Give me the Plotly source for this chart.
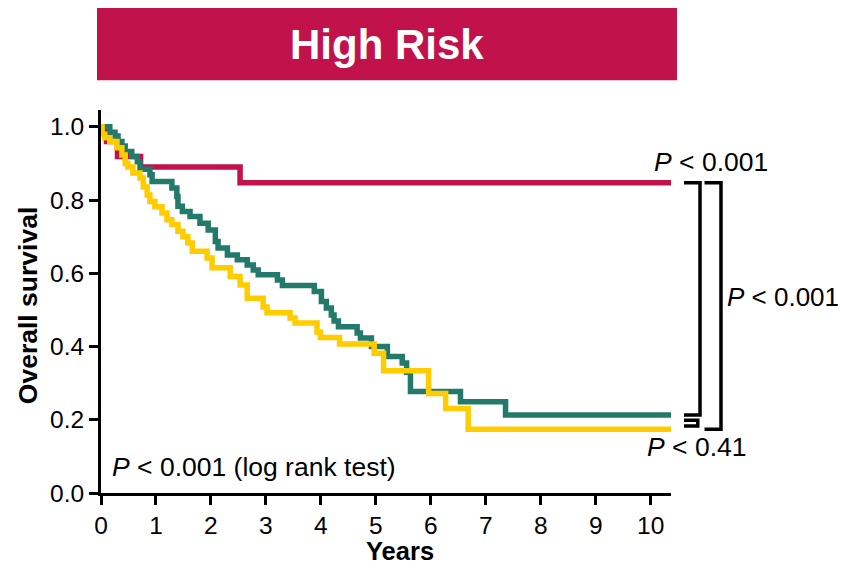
import plotly.graph_objects as go

# ---- data ----
red_t = [0, 0.10, 0.30, 0.72, 2.53, 10.37]
red_s = [1.0, 0.96, 0.919, 0.89, 0.847, 0.847]

green_t = [0, 0.16, 0.255, 0.31, 0.38, 0.44, 0.56, 0.66, 0.71, 0.89, 0.93, 1.29, 1.38, 1.40,
           1.48, 1.62, 1.80, 1.95, 2.08, 2.13, 2.30, 2.48, 2.66, 2.77, 2.86, 3.21, 3.30, 3.88,
           4.01, 4.10, 4.19, 4.24, 4.32, 4.66, 4.72, 4.92, 5.21, 5.48, 5.56, 5.63, 6.54, 7.36, 10.37]
green_s = [1.0, 0.985, 0.975, 0.96, 0.948, 0.933, 0.919, 0.905, 0.884, 0.869, 0.851, 0.833, 0.81, 0.783,
           0.769, 0.755, 0.737, 0.718, 0.687, 0.669, 0.65, 0.637, 0.623, 0.609, 0.596, 0.582, 0.567, 0.55,
           0.523, 0.505, 0.486, 0.47, 0.454, 0.437, 0.423, 0.40, 0.373, 0.355, 0.33, 0.277, 0.249, 0.213, 0.213]

yellow_t = [0, 0.02, 0.07, 0.16, 0.29, 0.38, 0.44, 0.49, 0.58, 0.71, 0.77, 0.84, 0.89, 0.98, 1.11,
            1.20, 1.29, 1.40, 1.49, 1.58, 1.66, 1.93, 2.02, 2.35, 2.53, 2.66, 2.95, 3.02, 3.44, 3.53,
            3.93, 3.99, 4.34, 4.97, 5.14, 5.96, 6.27, 6.68, 10.37]
yellow_s = [1.0, 0.98, 0.97, 0.96, 0.943, 0.923, 0.90, 0.89, 0.874, 0.86, 0.836, 0.814, 0.796, 0.782, 0.765,
            0.746, 0.733, 0.715, 0.70, 0.683, 0.66, 0.642, 0.615, 0.591, 0.568, 0.532, 0.508, 0.492, 0.478, 0.464,
            0.44, 0.425, 0.407, 0.382, 0.334, 0.272, 0.231, 0.174, 0.174]

x_ticks = list(range(0, 11))
y_ticks = [0.0, 0.2, 0.4, 0.6, 0.8, 1.0]

title_text = "High Risk"
p_red_green = "<i>P</i> &lt; 0.001"
p_red_yellow = "<i>P</i> &lt; 0.001"
p_green_yellow = "<i>P</i> &lt; 0.41"
p_logrank = "<i>P</i> &lt; 0.001 (log rank test)"

RED = "#C1124B"
GREEN = "#247A6A"
YELLOW = "#FFCC00"
FONT = "Liberation Sans, Arial, sans-serif"

fig = go.Figure()
for t, s, c in [(red_t, red_s, RED), (green_t, green_s, GREEN), (yellow_t, yellow_s, YELLOW)]:
    fig.add_trace(go.Scatter(x=t, y=s, mode="lines", line=dict(color=c, width=5.5, shape="hv"),
                             hoverinfo="skip", showlegend=False))

fig.update_layout(
    width=841, height=568,
    margin=dict(l=101, r=170, t=110, b=75),
    plot_bgcolor="white", paper_bgcolor="white",
    font=dict(family=FONT, size=24, color="black"),
    showlegend=False,
)
fig.update_xaxes(range=[0, 10.37], tickvals=x_ticks, ticktext=[str(v) for v in x_ticks],
                 showline=True, linecolor="black", linewidth=3, ticks="outside", ticklen=9,
                 tickwidth=3, tickcolor="black", showgrid=False, zeroline=False,
                 tickfont=dict(size=24.5))
fig.update_yaxes(range=[0, 1.046], tickvals=y_ticks, ticktext=[f"{v:.1f}" for v in y_ticks],
                 showline=True, linecolor="black", linewidth=3, ticks="outside", ticklen=9,
                 tickwidth=3, tickcolor="black", showgrid=False, zeroline=False,
                 tickfont=dict(size=24.5))

# title bar
fig.add_shape(type="rect", xref="paper", yref="paper", x0=-0.007, x1=1.0105, y0=1.078, y1=1.266,
              fillcolor=RED, line=dict(width=0), layer="above")
annos = [
    dict(text="<b>" + title_text + "</b>", x=0.502, y=1.172, font=dict(size=42, color="white")),
    dict(text="<b>Years</b>", x=0.5246, y=-0.151, font=dict(size=25.5)),
    dict(text="<b>Overall survival</b>", x=-0.128, y=0.488, textangle=-90, font=dict(size=26.5)),
    dict(text=p_red_green, x=0.9667, y=0.864, xanchor="left", font=dict(size=26.5)),
    dict(text=p_red_yellow, x=1.095, y=0.512, xanchor="left", font=dict(size=26)),
    dict(text=p_green_yellow, x=0.954, y=0.12, xanchor="left", font=dict(size=26.5)),
    dict(text=p_logrank, x=0.0158, y=0.068, xanchor="left", font=dict(size=26.5)),
]
for a in annos:
    a.setdefault("xanchor", "center")
    fig.add_annotation(xref="paper", yref="paper", showarrow=False, yanchor="middle", **a)

# brackets
def bracket(x0, x1, ytop, ybot):
    path = f"M {x0},{ytop} L {x1},{ytop} L {x1},{ybot} L {x0},{ybot}"
    fig.add_shape(type="path", xref="paper", yref="y", path=path,
                  line=dict(color="black", width=3.5), layer="above")

bracket(1.0228, 1.0509, red_s[-1], green_s[-1])
bracket(1.0228, 1.047, green_s[-1] - 0.014, yellow_s[-1] + 0.009)
bracket(1.0588, 1.0877, red_s[-1], yellow_s[-1])

fig.write_html("out.html")
